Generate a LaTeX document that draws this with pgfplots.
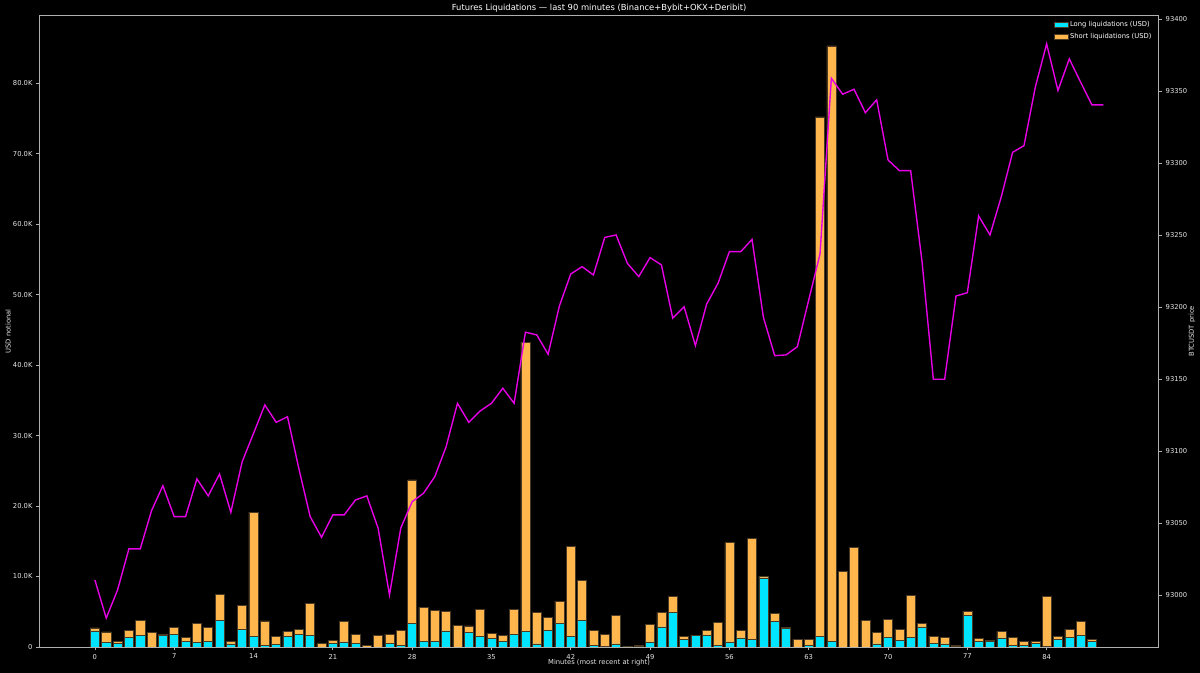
\documentclass[border=0pt]{standalone}
\usepackage{fontspec}
\setmainfont{DejaVu Sans}
\usepackage{pgfplots}
\usepackage{pgfplotstable}
\pgfplotsset{compat=1.18}

\definecolor{longc}{RGB}{0,229,255}
\definecolor{shortc}{RGB}{255,183,77}
\definecolor{pricec}{RGB}{230,0,230}
\definecolor{spine}{RGB}{175,175,175}
\definecolor{tickc}{RGB}{230,230,230}
\definecolor{edgec}{RGB}{75,58,35}

% minute, long liquidations (USD), short liquidations (USD)
\pgfplotstableread{
m long short
0 2270 430
1 660 1470
2 470 330
3 1370 990
4 1600 2140
5 0 2030
6 1600 200
7 1800 990
8 850 470
9 610 2790
10 800 1990
11 3780 3640
12 430 330
13 2500 3360
14 1470 17680
15 200 3490
16 380 1180
17 1510 710
18 1840 620
19 1600 4550
20 0 470
21 520 380
22 710 2930
23 470 1280
24 0 240
25 0 1650
26 470 1370
27 240 2080
28 3360 20340
29 800 4830
30 760 4440
31 2270 2790
32 0 3070
33 2030 950
34 1560 3740
35 1180 760
36 760 940
37 1840 3460
38 2170 41090
39 430 4530
40 2410 1750
41 3400 3080
42 1470 12830
43 3830 5630
44 190 2130
45 140 1660
46 430 4010
47 140 0
48 100 90
49 710 2490
50 2840 2030
51 4960 2270
52 1040 470
53 1600 100
54 1650 710
55 190 3310
56 710 14090
57 1280 1080
58 1090 14370
59 9790 230
60 3590 1190
61 2600 140
62 0 1090
63 240 890
64 1510 73690
65 800 84500
66 0 10780
67 0 14090
68 0 3740
69 430 1600
70 1370 2600
71 950 1510
72 1370 5960
73 2840 470
74 520 1040
75 430 940
76 140 50
77 4490 610
78 800 380
79 760 190
80 1280 940
81 190 1180
82 240 560
83 520 240
84 140 7000
85 1130 430
86 1370 1180
87 1650 1940
88 850 240
89 0 0
}\liqdata

% minute, BTCUSDT price
\pgfplotstableread{
m price
0 93010.6
1 92984.2
2 93003.7
3 93032.2
4 93032.2
5 93058.8
6 93076.1
7 93054.6
8 93054.6
9 93080.8
10 93069.0
11 93084.2
12 93057.6
13 93092.8
14 93112.4
15 93132.2
16 93120.1
17 93124.0
18 93088.0
19 93054.6
20 93040.3
21 93055.8
22 93055.8
23 93066.2
24 93069.0
25 93046.5
26 93000.2
27 93046.8
28 93065.0
29 93070.8
30 93082.4
31 93103.2
32 93133.3
33 93120.1
34 93128.0
35 93133.3
36 93143.8
37 93133.3
38 93182.7
39 93180.8
40 93167.4
41 93201.0
42 93223.1
43 93228.2
44 93222.4
45 93248.5
46 93250.2
47 93230.5
48 93221.3
49 93234.5
50 93229.4
51 93192.4
52 93200.4
53 93173.4
54 93202.3
55 93216.7
56 93238.6
57 93238.6
58 93247.1
59 93193.1
60 93166.4
61 93166.9
62 93172.6
63 93205.0
64 93237.0
65 93359.0
66 93347.9
67 93351.4
68 93335.1
69 93344.0
70 93302.3
71 93294.9
72 93294.9
73 93232.0
74 93150.0
75 93150.0
76 93207.8
77 93210.1
78 93263.4
79 93250.2
80 93276.8
81 93307.6
82 93312.2
83 93352.8
84 93382.9
85 93350.5
86 93372.5
87 93356.3
88 93340.5
89 93340.5
}\pricedata

\pgfplotsset{
  darkaxis/.style={
    at={(39.5bp,26bp)}, anchor=south west,
    scale only axis, width=1119.2bp, height=631.5bp,
    xmin=-4.89, xmax=93.89,
    axis line style={spine, line width=0.8bp},
    tick style={spine, line width=0.8bp},
    major tick length=3.5bp, tick align=outside,
    ticklabel style={font=\fontsize{6.8}{8}\selectfont, text=tickc},
    /pgf/number format/assume math mode=true,
    scaled ticks=false,
  },
}

\begin{document}
\begin{tikzpicture}[x=1bp,y=1bp]
\fill[black] (0,0) rectangle (1200,673);

\begin{axis}[
  darkaxis,
  ymin=0, ymax=89600,
  xtick={0,7,...,84}, xtick pos=bottom,
  ytick={0,10000,...,80000}, ytick pos=left,
  yticklabels={0,10.0K,20.0K,30.0K,40.0K,50.0K,60.0K,70.0K,80.0K},
  ybar stacked, bar width=0.8,
  legend style={at={(1,1)}, anchor=north east, xshift=-4bp, yshift=-3bp,
    draw=none, fill=black, text=white,
    font=\fontsize{6.8}{8}\selectfont, row sep=1.2bp,
    inner sep=1bp},
  legend cell align=left,
  legend image code/.code={\draw[#1] (0bp,-2.6bp) rectangle (14bp,2.6bp);},
]
\addplot[fill=longc, draw=edgec, line width=0.5bp] table[x=m, y=long] {\liqdata};
\addlegendentry{Long liquidations (USD)}
\addplot[fill=shortc, draw=edgec, line width=0.5bp] table[x=m, y=short] {\liqdata};
\addlegendentry{Short liquidations (USD)}
\end{axis}

\begin{axis}[
  darkaxis,
  ymin=92964.1, ymax=93402.6,
  hide x axis,
  axis y line*=right,
  ytick={93000,93050,...,93400},
  yticklabels={93000,93050,93100,93150,93200,93250,93300,93350,93400},
]
\addplot[pricec, line width=1.4bp, mark=none] table[x=m, y=price] {\pricedata};
\end{axis}

\node[text=white, font=\fontsize{8.4}{10}\selectfont] at (599.1,665)
  {Futures Liquidations — last 90 minutes (Binance+Bybit+OKX+Deribit)};
\node[text=tickc, font=\fontsize{6.8}{8}\selectfont] at (599.1,10)
  {Minutes (most recent at right)};
\node[text=tickc, font=\fontsize{6.8}{8}\selectfont, rotate=90] at (8,341.75)
  {USD notional};
\node[text=tickc, font=\fontsize{6.8}{8}\selectfont, rotate=90] at (1192,341.75)
  {BTCUSDT price};

\pgfresetboundingbox
\path (0,0) rectangle (1200,673);
\end{tikzpicture}
\end{document}
